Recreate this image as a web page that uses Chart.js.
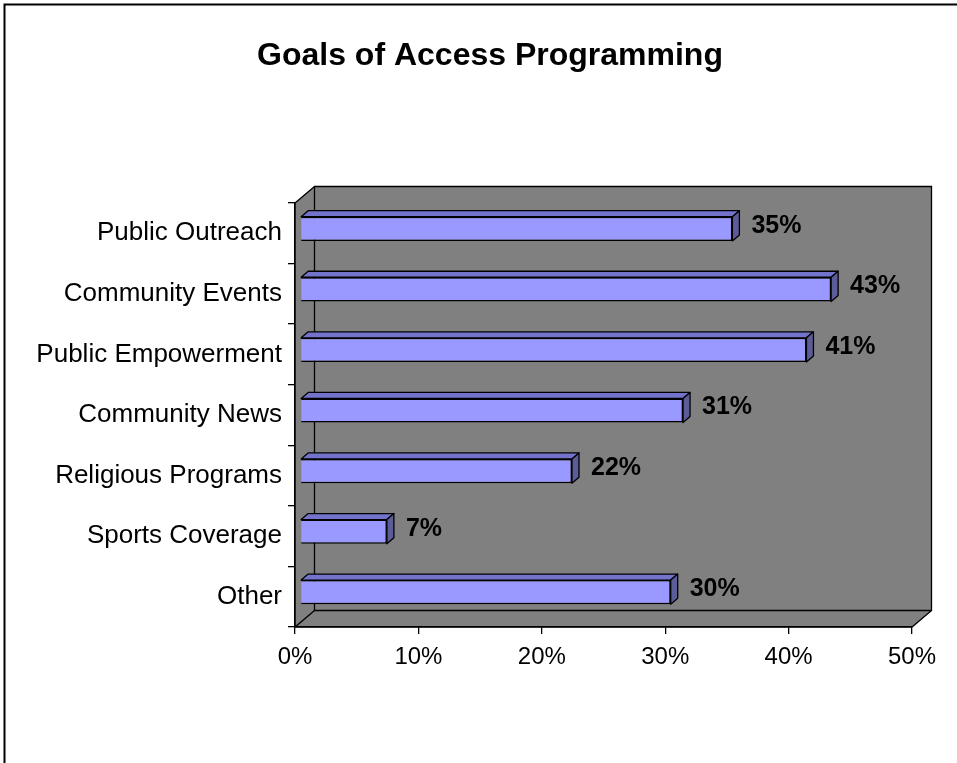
<!DOCTYPE html>
<html>
<head>
<meta charset="utf-8">
<script src="https://cdn.jsdelivr.net/npm/chart.js@4/dist/chart.umd.min.js"></script>
<style>
  html, body { margin: 0; padding: 0; background: #ffffff; }
  canvas { display: block; }
</style>
</head>
<body>
<canvas id="chart" width="957" height="763"></canvas>
<script>
// Survey results: share of stations naming each goal
const categories = [
  'Public Outreach',
  'Community Events',
  'Public Empowerment',
  'Community News',
  'Religious Programs',
  'Sports Coverage',
  'Other'
];
const shares = [35, 43, 41, 31, 22, 7, 30];
const axisTicks = [0, 10, 20, 30, 40, 50];
const chartTitle = 'Goals of Access Programming';

const FONT = 'Arial, "Liberation Sans", sans-serif';

// Oblique 3D look: back wall offset and bar depth
const WALL_DX = 19.5, WALL_DY = 16.5;
const BAR_DX = 5.5, BAR_DY = 4.5;
const DEPTH_X = 7, DEPTH_Y = 6;

const FRONT_COLOR = '#9999ff';
const TOP_COLOR = '#7373cc';
const SIDE_COLOR = '#5c5c99';
const WALL_COLOR = '#808080';

const box3d = {
  id: 'box3d',
  beforeDraw(chart) {
    const { ctx, chartArea: a } = chart;
    ctx.save();
    // outer frame
    ctx.strokeStyle = '#000';
    ctx.lineWidth = 2;
    ctx.strokeRect(4.5, 4.5, 1200, 1200);

    // title, centred over the whole frame
    ctx.fillStyle = '#000';
    ctx.font = 'bold 32px ' + FONT;
    ctx.textAlign = 'center';
    ctx.textBaseline = 'middle';
    ctx.fillText(chartTitle, 490, 56);

    const L = a.left, R = a.right, T = a.top, B = a.bottom;
    const bl = L + WALL_DX, br = R + WALL_DX, bt = T - WALL_DY, bb = B - WALL_DY;
    ctx.fillStyle = WALL_COLOR;
    // back wall
    ctx.fillRect(bl, bt, br - bl, bb - bt);
    // side wall
    ctx.beginPath();
    ctx.moveTo(L, T); ctx.lineTo(bl, bt); ctx.lineTo(bl, bb); ctx.lineTo(L, B);
    ctx.closePath(); ctx.fill();
    // floor
    ctx.beginPath();
    ctx.moveTo(L, B); ctx.lineTo(R, B); ctx.lineTo(br, bb); ctx.lineTo(bl, bb);
    ctx.closePath(); ctx.fill();

    ctx.strokeStyle = '#000';
    ctx.lineWidth = 1.3;
    ctx.beginPath();
    ctx.rect(bl, bt, br - bl, bb - bt);
    ctx.moveTo(L, T); ctx.lineTo(bl, bt);
    ctx.moveTo(L, T); ctx.lineTo(L, B);
    ctx.lineTo(bl, bb);
    ctx.moveTo(L, B); ctx.lineTo(R, B); ctx.lineTo(br, bb);
    ctx.stroke();
    ctx.restore();
  },
  beforeDatasetsDraw(chart) {
    chart.ctx.save();
    chart.ctx.translate(BAR_DX, -BAR_DY);
  },
  afterDatasetsDraw(chart) {
    const ctx = chart.ctx;
    ctx.restore();
    const meta = chart.getDatasetMeta(0);
    ctx.save();
    ctx.lineJoin = 'round';
    meta.data.forEach((bar, i) => {
      const p = bar.getProps(['x', 'y', 'base', 'height'], true);
      const left = p.base + BAR_DX, right = p.x + BAR_DX;
      const top = p.y - p.height / 2 - BAR_DY, bottom = p.y + p.height / 2 - BAR_DY;
      ctx.lineWidth = 1.3;
      ctx.strokeStyle = '#000';
      // top face
      ctx.beginPath();
      ctx.moveTo(left, top);
      ctx.lineTo(left + DEPTH_X, top - DEPTH_Y);
      ctx.lineTo(right + DEPTH_X, top - DEPTH_Y);
      ctx.lineTo(right, top);
      ctx.closePath();
      ctx.fillStyle = TOP_COLOR; ctx.fill(); ctx.stroke();
      // end face
      ctx.beginPath();
      ctx.moveTo(right, top);
      ctx.lineTo(right + DEPTH_X, top - DEPTH_Y);
      ctx.lineTo(right + DEPTH_X, bottom - DEPTH_Y);
      ctx.lineTo(right, bottom);
      ctx.closePath();
      ctx.fillStyle = SIDE_COLOR; ctx.fill(); ctx.stroke();

      // value label
      ctx.fillStyle = '#000';
      ctx.font = 'bold 25px ' + FONT;
      ctx.textAlign = 'left';
      ctx.textBaseline = 'middle';
      ctx.fillText(shares[i] + '%', right + DEPTH_X + 12, (top + bottom) / 2 - 3);
    });
    ctx.restore();
  }
};

new Chart(document.getElementById('chart'), {
  type: 'bar',
  data: {
    labels: categories,
    datasets: [{
      data: shares,
      backgroundColor: FRONT_COLOR,
      borderColor: '#000',
      borderWidth: 1.5,
      categoryPercentage: 1,
      barPercentage: 0.4
    }]
  },
  options: {
    indexAxis: 'y',
    responsive: false,
    animation: false,
    layout: { padding: { left: 0, right: 45, top: 203, bottom: 0 } },
    plugins: {
      legend: { display: false },
      tooltip: { enabled: false },
      title: { display: false }
    },
    scales: {
      x: {
        min: axisTicks[0],
        max: axisTicks[axisTicks.length - 1],
        afterBuildTicks(scale) { scale.ticks = axisTicks.map(v => ({ value: v })); },
        afterFit(scale) { scale.height = 136; },
        ticks: {
          color: '#000',
          font: { family: FONT, size: 24 },
          padding: 9,
          maxRotation: 0,
          callback: v => v + '%'
        },
        grid: { drawOnChartArea: false, drawTicks: true, tickLength: 7, color: '#000', lineWidth: 1.3 },
        border: { display: true, color: '#000', width: 1.3 }
      },
      y: {
        afterFit(scale) { scale.width = 295; },
        ticks: {
          color: '#000',
          font: { family: FONT, size: 26 },
          padding: 6
        },
        grid: { drawOnChartArea: false, drawTicks: true, tickLength: 7, color: '#000', lineWidth: 1.3, offset: true },
        border: { display: true, color: '#000', width: 1.3 }
      }
    }
  },
  plugins: [box3d]
});
</script>
</body>
</html>
